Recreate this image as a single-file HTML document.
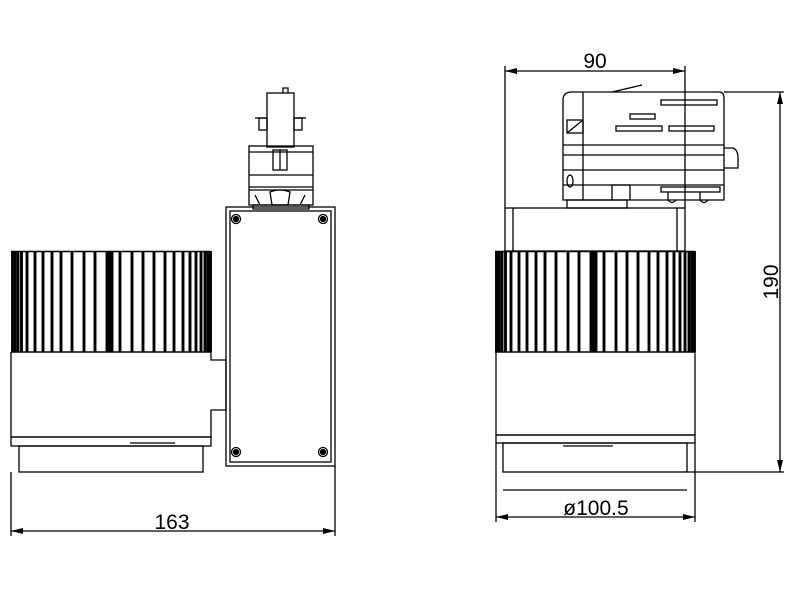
<!DOCTYPE html>
<html><head><style>html,body{margin:0;padding:0;background:#fff}svg{display:block}</style></head><body>
<svg width="799" height="600" viewBox="0 0 799 600" xmlns="http://www.w3.org/2000/svg" font-family="Liberation Sans, sans-serif">
<defs>
<g id="fins" stroke="#000" stroke-width="2.9">
<line x1="12.5" y1="251" x2="12.5" y2="352"/><line x1="15" y1="251" x2="15" y2="352"/><line x1="18" y1="251" x2="18" y2="352"/><line x1="21.5" y1="251" x2="21.5" y2="352"/><line x1="27" y1="251" x2="27" y2="352"/><line x1="35" y1="251" x2="35" y2="352"/><line x1="43" y1="251" x2="43" y2="352"/><line x1="52" y1="251" x2="52" y2="352"/><line x1="61" y1="251" x2="61" y2="352"/><line x1="72" y1="251" x2="72" y2="352"/><line x1="84" y1="251" x2="84" y2="352"/><line x1="95" y1="251" x2="95" y2="352"/><line x1="107" y1="251" x2="107" y2="352"/><line x1="109.5" y1="251" x2="109.5" y2="352"/><line x1="112" y1="251" x2="112" y2="352"/><line x1="120" y1="251" x2="120" y2="352"/><line x1="132" y1="251" x2="132" y2="352"/><line x1="143" y1="251" x2="143" y2="352"/><line x1="154" y1="251" x2="154" y2="352"/><line x1="165" y1="251" x2="165" y2="352"/><line x1="174" y1="251" x2="174" y2="352"/><line x1="183" y1="251" x2="183" y2="352"/><line x1="190" y1="251" x2="190" y2="352"/><line x1="196" y1="251" x2="196" y2="352"/><line x1="201" y1="251" x2="201" y2="352"/><line x1="205" y1="251" x2="205" y2="352"/><line x1="208" y1="251" x2="208" y2="352"/><line x1="210.5" y1="251" x2="210.5" y2="352"/>
<line x1="11" y1="251.5" x2="211" y2="251.5" stroke-width="1.5"/><line x1="11" y1="352" x2="211" y2="352" stroke-width="1.5"/>
</g>
<marker id="ar" viewBox="0 0 12 6" refX="12" refY="3" markerWidth="12" markerHeight="6" orient="auto-start-reverse" markerUnits="userSpaceOnUse"><path d="M0,0 L12,3 L0,6 z" fill="#000"/></marker>
</defs>
<g fill="none" stroke="#000" stroke-width="1.3">
<use href="#fins"/>
<path d="M11,352 V437 H211 V410 H226 V360 H211 V352"/>
<rect x="11" y="437" width="200" height="9"/>
<rect x="19" y="446" width="184" height="26"/>
<line x1="130" y1="443" x2="175" y2="443"/>
<rect x="226" y="207" width="109" height="259"/>
<rect x="230" y="211" width="101" height="251"/>
<circle cx="236" cy="219" r="4.5"/><circle cx="236" cy="219" r="2.5" fill="#000"/>
<circle cx="323" cy="219" r="4.5"/><circle cx="323" cy="219" r="2.5" fill="#000"/>
<circle cx="236" cy="452" r="4.5"/><circle cx="236" cy="452" r="2.5" fill="#000"/>
<circle cx="323" cy="452" r="4.5"/><circle cx="323" cy="452" r="2.5" fill="#000"/>
<rect x="267" y="93" width="27" height="54"/>
<path d="M283,93 V88 H288 V93"/>
<line x1="255" y1="118" x2="267" y2="118"/><line x1="294" y1="118" x2="306" y2="118"/>
<rect x="259" y="118" width="8" height="12"/><rect x="294" y="118" width="8" height="12"/>
<rect x="249" y="146" width="64" height="59"/>
<line x1="249" y1="152" x2="313" y2="152"/><line x1="249" y1="175" x2="313" y2="175"/>
<line x1="249" y1="187" x2="313" y2="187"/><line x1="249" y1="190" x2="313" y2="190"/>
<rect x="273" y="150" width="14" height="20"/><line x1="280" y1="150" x2="280" y2="170"/>
<path d="M255,195 L260,205 M305,195 L300,205 M270,192 Q280,188 290,192 L288,205 H272 Z"/>
<rect x="253" y="205" width="56" height="4"/>
<line x1="11" y1="472" x2="11" y2="536"/><line x1="335" y1="466" x2="335" y2="536"/>
<line x1="11" y1="531" x2="335" y2="531" marker-start="url(#ar)" marker-end="url(#ar)"/>
<use href="#fins" transform="translate(484,0)"/>
<path d="M496,352 V435 H695 V352"/>
<rect x="496" y="435" width="199" height="8"/>
<rect x="503" y="443" width="184" height="29"/>
<line x1="563" y1="446" x2="613" y2="446"/>
<rect x="505" y="208" width="180" height="43"/>
<line x1="513" y1="208" x2="513" y2="251"/><line x1="677" y1="208" x2="677" y2="251"/>
<path d="M563,100 Q563,92 572,92 H719 Q724,92 724,98 V200 H563 Z"/>
<line x1="583" y1="92" x2="583" y2="200"/>
<line x1="563" y1="145" x2="724" y2="145"/><line x1="563" y1="155" x2="724" y2="155"/><line x1="563" y1="170" x2="724" y2="170"/><line x1="563" y1="185" x2="724" y2="185"/>
<path d="M612,92 L642,85"/>
<rect x="661" y="100" width="56" height="5"/><rect x="630" y="114" width="25" height="5"/>
<rect x="616" y="126" width="46" height="5"/><rect x="669" y="126" width="45" height="5"/>
<path d="M724,148 H733 Q738,150 738,158 V168 H724"/>
<rect x="567" y="120" width="16" height="13"/><line x1="567" y1="133" x2="583" y2="120"/>
<ellipse cx="570" cy="181" rx="3" ry="6"/>
<path d="M612,200 V185 H630 V200"/><rect x="661" y="187" width="59" height="5"/>
<path d="M668,192 V200 Q672,205 676,200 M700,192 V200 Q704,205 708,200"/>
<rect x="567" y="200" width="60" height="8"/>
<line x1="503" y1="490" x2="687" y2="490"/>
<line x1="505" y1="66" x2="505" y2="208"/><line x1="685" y1="66" x2="685" y2="208"/>
<line x1="505" y1="71" x2="685" y2="71" marker-start="url(#ar)" marker-end="url(#ar)"/>
<line x1="724" y1="92" x2="784" y2="92"/><line x1="687" y1="472" x2="784" y2="472"/>
<line x1="780" y1="92" x2="780" y2="472" marker-start="url(#ar)" marker-end="url(#ar)"/>
<line x1="496" y1="443" x2="496" y2="522"/><line x1="695" y1="443" x2="695" y2="522"/>
<line x1="496" y1="517" x2="695" y2="517" marker-start="url(#ar)" marker-end="url(#ar)"/>
</g>
<g fill="#000" font-size="21" text-anchor="middle">
<text x="172" y="529">163</text>
<text x="595" y="68">90</text>
<text x="596" y="515">ø100.5</text>
<text transform="translate(778,282) rotate(-90)">190</text>
</g>
</svg>
</body></html>
